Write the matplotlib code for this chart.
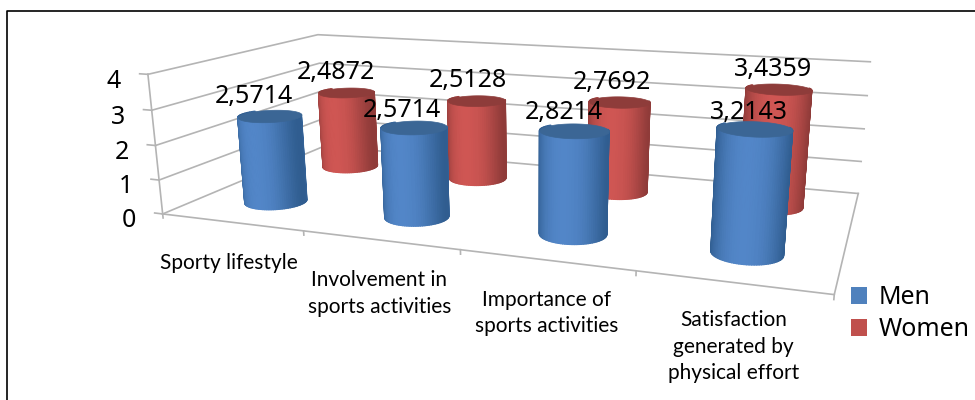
import numpy as np
import matplotlib
matplotlib.use('Agg')
import matplotlib.pyplot as plt
from matplotlib.lines import Line2D
from matplotlib.patches import Patch
from mpl_toolkits.mplot3d import proj3d
from mpl_toolkits.mplot3d.art3d import Poly3DCollection

categories = ['Sporty lifestyle', 'Involvement in\nsports activities',
              'Importance of\nsports activities',
              'Satisfaction\ngenerated by\nphysical effort']
men = [2.5714, 2.5714, 2.8214, 3.2143]
women = [2.4872, 2.5128, 2.7692, 3.4359]
men_labels = ['2,5714', '2,5714', '2,8214', '3,2143']
women_labels = ['2,4872', '2,5128', '2,7692', '3,4359']
y_ticks = [0, 1, 2, 3, 4]

# label nudges in pixels
men_nudge = [(-16, -19), (-12, -17), (-10, -18), (-6, -16)]
women_nudge = [(-11, -20), (-9, -20), (-8, -19), (-6, -20)]
cat_nudge = [(22, 16), (20, 13), (16, 11), (10, 7)]

# chart box corners (x, depth, value) and where they sit on the image
box_corners = [(0, 0, 0), (4, 0, 0), (4, 2, 0), (0, 2, 0), (0, 0, 4), (0, 2, 4), (4, 2, 4)]
box_pixels = [(162, 213), (835, 295), (858, 193), (324.6, 147), (148, 75), (318, 34), (870, 62)]

W, H = 975, 400
fig = plt.figure(figsize=(W / 100, H / 100), dpi=100)
ax = fig.add_subplot(projection='3d')
ax.apply_aspect = lambda position=None: None
ax.set_position([0, 0, 1, 1])
ax.set_axis_off()
ax.computed_zorder = False
ax.set_xlim(0, 4)
ax.set_ylim(0, 2)
ax.set_zlim(0, 4)


def fit_projection():
    # camera matrix from the box corners, the view of the picture is off-axis
    inv = ax.transData.inverted()
    rows = []
    for (X, Y, Z), (px, py) in zip(box_corners, box_pixels):
        u, v = inv.transform((px, H - py))
        rows.append([X, Y, Z, 1, 0, 0, 0, 0, -u * X, -u * Y, -u * Z, -u])
        rows.append([0, 0, 0, 0, X, Y, Z, 1, -v * X, -v * Y, -v * Z, -v])
    P = np.linalg.svd(np.array(rows))[2][-1].reshape(3, 4)
    P = P / (P[2] @ np.array([2, 1, 2, 1]))
    return np.array([P[0], P[1], [0, 0, 0, -1], P[2]])


M = fit_projection()
ax.get_proj = lambda: M


def label(x, y, z, s, nudge=(0, 0), **kw):
    # text at a 3D point, written as plain 2D text so its extent is the real one
    u, v, _ = proj3d.proj_transform(x, y, z, M)
    px, py = ax.transData.transform((u, v))
    return ax.text2D((px + nudge[0]) / W, (py - nudge[1]) / H, s, transform=fig.transFigure, **kw)


GRID = '#b4b4b4'
for v in y_ticks:
    ax.plot([0, 0, 4], [0, 2, 2], [v, v, v], color=GRID, lw=1.2, zorder=1)
    ax.plot([-0.06, 0], [0, 0], [v, v], color=GRID, lw=1.2, zorder=1)
    label(-0.14, 0, v - 0.08, str(v), nudge=(-8, 6), ha='right', va='center', fontsize=18,
          family='Noto Sans', zorder=30)
ax.plot([0, 0], [0, 0], [0, 4], color=GRID, lw=1.2, zorder=1)
ax.plot([0, 4, 4], [0, 0, 2], [0, 0, 0], color=GRID, lw=1.2, zorder=1)
for i in range(5):
    ax.plot([i, i], [0, 0], [0, -0.12], color=GRID, lw=1.2, zorder=1)


def cylinder(cx, cy, height, centre, edge, top, zorder):
    rx, ry = 0.195, 0.2
    # only the camera-facing part of the wall, the back never shows
    theta = np.linspace(np.pi - 0.5, 2 * np.pi + 0.5, 61)
    xs = cx + rx * np.cos(theta)
    ys = cy + ry * np.sin(theta)
    X = np.vstack([xs, xs])
    Y = np.vstack([ys, ys])
    Z = np.vstack([np.zeros_like(xs), np.full_like(xs, height)])
    t = np.abs(np.cos(theta))[:, None] ** 2.2
    cols = np.array(matplotlib.colors.to_rgb(centre)) * (1 - t) + np.array(matplotlib.colors.to_rgb(edge)) * t
    fc = np.dstack([cols[:, 0], cols[:, 1], cols[:, 2], np.ones(len(theta))])
    fc = np.vstack([fc, fc])
    ax.plot_surface(X, Y, Z, facecolors=fc, rstride=1, cstride=1, shade=False,
                    linewidth=1.0, zorder=zorder)
    ring = np.linspace(0, 2 * np.pi, 73)
    cap = Poly3DCollection([list(zip(cx + rx * np.cos(ring), cy + ry * np.sin(ring), np.full_like(ring, height)))],
                           facecolor=top, edgecolor=top, linewidth=0.5, zorder=zorder + 0.5)
    ax.add_collection3d(cap)


for i in range(len(categories)):
    cylinder(i + 0.5, 1.5, women[i], '#cf5653', '#8f3b39', '#8e3c3a', 2 + i)
for i in range(len(categories)):
    cylinder(i + 0.5, 0.5, men[i], '#5286c8', '#305d90', '#3b6695', 10 + i)

for i in range(len(categories)):
    label(i + 0.5, 1.5, women[i], women_labels[i], nudge=women_nudge[i], ha='center', va='center',
          fontsize=18, family='Noto Sans', zorder=31)
    label(i + 0.5, 0.5, men[i], men_labels[i], nudge=men_nudge[i], ha='center', va='center',
          fontsize=18, family='Noto Sans', zorder=32)
    label(i + 0.5, -0.25, -0.1, categories[i], nudge=cat_nudge[i], ha='center', va='top', fontsize=15,
          family='Lato', zorder=30, linespacing=1.42)

handles = [Patch(facecolor='#4f81bd', label='Men'), Patch(facecolor='#c0504d', label='Women')]
prop = {'family': 'Noto Sans', 'size': 18}
fig.legend(handles=handles, loc='lower left', bbox_to_anchor=(846 / W, 1 - 347 / H), frameon=False,
           prop=prop, handlelength=0.65, handleheight=0.65, handletextpad=0.45,
           labelspacing=0.27, borderpad=0.2, borderaxespad=0)

# page frame round the chart
fig.add_artist(Line2D([7 / W, 7 / W, 1], [0, 1 - 11 / H, 1 - 11 / H], color='black', lw=1.2))

fig.savefig('out.png', dpi=100)
